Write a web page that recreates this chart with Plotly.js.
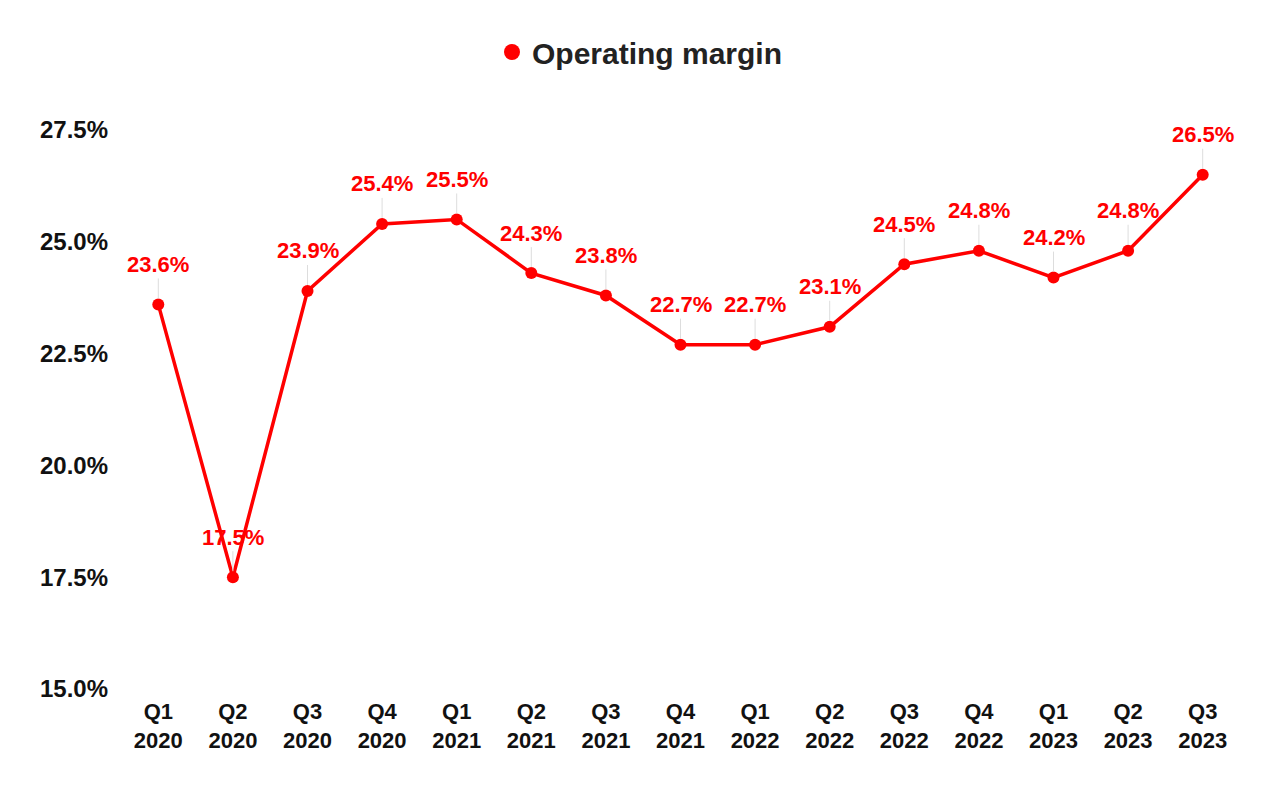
<!DOCTYPE html>
<html>
<head>
<meta charset="utf-8">
<script src="https://cdn.plot.ly/plotly-3.0.1.min.js"></script>
<style>html,body{margin:0;padding:0;background:#fff;}#chart{width:1280px;height:790px;}</style>
</head>
<body>
<div id="chart"></div>
<script>
const categories = ["Q1<br>2020","Q2<br>2020","Q3<br>2020","Q4<br>2020","Q1<br>2021","Q2<br>2021","Q3<br>2021","Q4<br>2021","Q1<br>2022","Q2<br>2022","Q3<br>2022","Q4<br>2022","Q1<br>2023","Q2<br>2023","Q3<br>2023"];
const operatingMargin = [23.6, 17.5, 23.9, 25.4, 25.5, 24.3, 23.8, 22.7, 22.7, 23.1, 24.5, 24.8, 24.2, 24.8, 26.5];
const yTickValues = [15, 17.5, 20, 22.5, 25, 27.5];
const yTickLabels = ["15.0%", "17.5%", "20.0%", "22.5%", "25.0%", "27.5%"];
const seriesName = "Operating margin";

const RED = "#ff0000";
const FONT = "Liberation Sans, Arial, sans-serif";

const trace = {
  x: categories,
  y: operatingMargin,
  type: "scatter",
  mode: "lines+markers",
  name: seriesName,
  showlegend: false,
  legendgroup: "om",
  line: {color: RED, width: 3.5},
  marker: {color: RED, size: 12},
  cliponaxis: false,
  hoverinfo: "x+y"
};

// legend entry shown as a single filled circle, as in the reference
const legendTrace = {
  x: [null],
  y: [null],
  type: "scatter",
  mode: "markers",
  name: seriesName,
  legendgroup: "om",
  showlegend: true,
  marker: {color: RED, size: 22},
  hoverinfo: "skip"
};

const annotations = operatingMargin.map((v, i) => ({
  x: categories[i],
  y: v,
  xref: "x",
  yref: "y",
  text: v.toFixed(1) + "%",
  showarrow: true,
  arrowhead: 0,
  arrowwidth: 1,
  arrowcolor: "#dddddd",
  ax: 0,
  ay: -40,
  standoff: 6,
  font: {family: FONT, size: 22, color: RED, weight: "bold"}
}));

const layout = {
  width: 1280,
  height: 790,
  paper_bgcolor: "#ffffff",
  plot_bgcolor: "#ffffff",
  margin: {l: 121, r: 40, t: 130, b: 101},
  showlegend: true,
  legend: {
    orientation: "h",
    xref: "container",
    yref: "container",
    x: 0.5,
    xanchor: "center",
    y: 1 - 52 / 790,
    yanchor: "middle",
    font: {family: FONT, size: 30, color: "#222222", weight: "bold"},
    itemsizing: "trace"
  },
  xaxis: {
    type: "category",
    range: [-0.5, 14.5],
    showgrid: false,
    zeroline: false,
    showline: false,
    ticks: "",
    ticklabelstandoff: 7,
    tickfont: {family: FONT, size: 22, color: "#111111", weight: "bold"},
    fixedrange: true
  },
  yaxis: {
    range: [15, 27.5],
    tickvals: yTickValues,
    ticktext: yTickLabels,
    showgrid: false,
    zeroline: false,
    showline: false,
    ticks: "",
    ticklabelstandoff: 12,
    tickfont: {family: FONT, size: 24, color: "#111111", weight: "bold"},
    fixedrange: true
  },
  annotations: annotations
};

Plotly.newPlot("chart", [trace, legendTrace], layout, {displayModeBar: false, responsive: false});
</script>
</body>
</html>
